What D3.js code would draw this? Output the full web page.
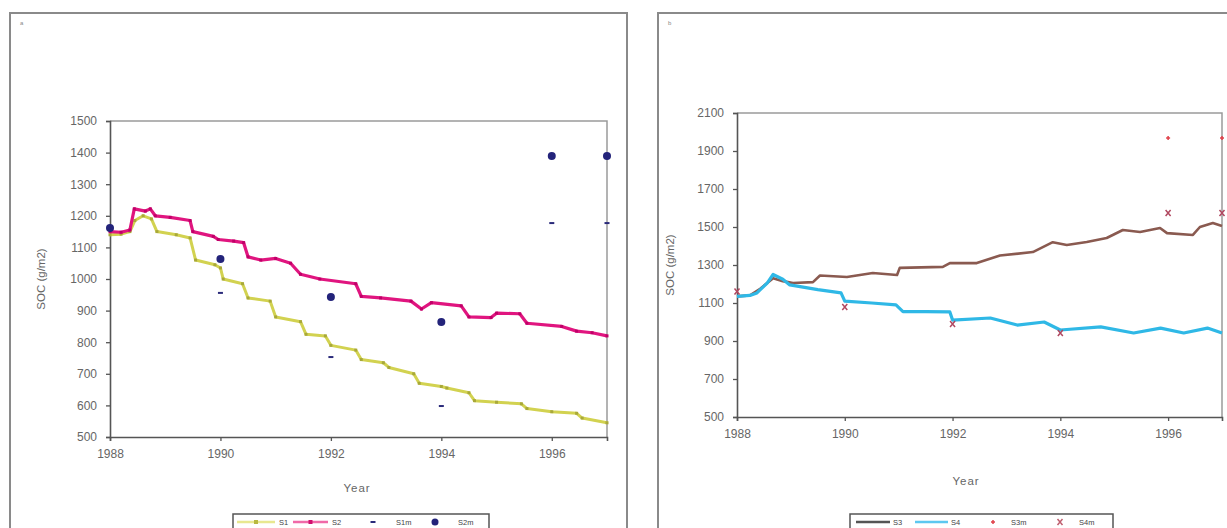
<!DOCTYPE html>
<html><head><meta charset="utf-8">
<script src="https://cdn.jsdelivr.net/npm/d3@7"></script>
<style>html,body{margin:0;padding:0;background:#fff;}svg{display:block;font-family:"Liberation Sans",Arial,sans-serif;}</style>
</head><body>
<svg id="c" width="1227" height="528"></svg>
<script>
// ---- Data ----
const xTicks = [1988, 1990, 1992, 1994, 1996];
const yTicksA = [500, 600, 700, 800, 900, 1000, 1100, 1200, 1300, 1400, 1500];
const yTicksB = [500, 700, 900, 1100, 1300, 1500, 1700, 1900, 2100];
const legendA = ["S1", "S2", "S1m", "S2m"];
const legendB = ["S3", "S4", "S3m", "S4m"];

// Panel a: simulated series (year, SOC)
const s1Years = [1988.0,1988.2,1988.36,1988.45,1988.6,1988.75,1988.85,1989.2,1989.45,1989.55,1989.9,1990.0,1990.05,1990.4,1990.5,1990.9,1991.0,1991.45,1991.55,1991.9,1992.0,1992.45,1992.55,1992.95,1993.05,1993.5,1993.6,1994.0,1994.1,1994.5,1994.6,1995.0,1995.45,1995.55,1996.0,1996.45,1996.55,1997.0];
const s1Vals  = [1140,1142,1150,1185,1200,1190,1150,1140,1130,1060,1045,1035,1000,985,940,930,880,865,825,820,790,775,745,735,720,700,670,660,655,640,615,610,605,590,580,575,560,545];
const s2Years = [1988.0,1988.2,1988.36,1988.44,1988.64,1988.73,1988.82,1989.09,1989.45,1989.5,1989.87,1989.96,1990.24,1990.42,1990.5,1990.73,1991.0,1991.27,1991.45,1991.8,1992.45,1992.55,1992.9,1993.45,1993.64,1993.82,1994.36,1994.5,1994.9,1995.0,1995.42,1995.55,1996.18,1996.45,1996.73,1997.0];
const s2Vals  = [1150,1148,1155,1222,1215,1222,1200,1195,1185,1150,1135,1125,1120,1115,1070,1060,1065,1050,1015,1000,985,945,940,930,905,925,915,880,878,892,890,860,850,835,830,820];
// Panel a: measured values
const obsYears = [1988, 1990, 1992, 1994, 1996, 1997];
const s1mVals = [1160, 956, 753, 598, 1177, 1177];
const s2mVals = [1161, 1063, 943, 864, 1389, 1389];

// Panel b: simulated series
const s3Years = [1988.0,1988.24,1988.43,1988.67,1988.85,1989.04,1989.41,1989.54,1990.04,1990.52,1990.97,1991.02,1991.82,1991.95,1992.45,1992.88,1993.49,1993.86,1994.12,1994.49,1994.86,1995.16,1995.48,1995.85,1995.98,1996.46,1996.59,1996.83,1997.0];
const s3Vals  = [1135,1140,1175,1230,1215,1205,1210,1245,1237,1258,1247,1285,1290,1310,1310,1350,1368,1420,1405,1421,1442,1484,1474,1495,1468,1458,1500,1521,1505];
const s4Years = [1988.0,1988.24,1988.37,1988.56,1988.67,1988.85,1988.98,1989.5,1989.93,1990.0,1990.5,1990.95,1991.08,1991.5,1991.95,1992.0,1992.7,1993.2,1993.7,1994.0,1994.75,1995.36,1995.86,1996.29,1996.73,1997.0];
const s4Vals  = [1135,1140,1153,1205,1250,1225,1195,1170,1153,1110,1100,1090,1055,1055,1053,1010,1021,984,1000,958,974,942,968,942,968,942];
// Panel b: measured values
const s3mYears = [1996, 1997];
const s3mVals = [1968, 1968];
const s4mVals = [1160, 1079, 990, 942, 1574, 1574];

// ---- Drawing ----
const svg = d3.select("#c");
svg.append("rect").attr("width",1227).attr("height",528).attr("fill","#fff");

function zip(a,b){return a.map((v,i)=>[v,b[i]]);}

function panel(cfg){
  const g = svg.append("g");
  g.append("rect").attr("x",cfg.frame[0]).attr("y",cfg.frame[1]).attr("width",cfg.frame[2]).attr("height",cfg.frame[3])
    .attr("fill","none").attr("stroke","#8a8a8a").attr("stroke-width",2);
  g.append("text").attr("x",cfg.frame[0]+10).attr("y",cfg.frame[1]+12).attr("font-size",6).attr("fill","#888").text(cfg.tag);

  const x = d3.scaleLinear().domain([1988,1997]).range([cfg.l,cfg.r]);
  const y = d3.scaleLinear().domain(cfg.ydom).range([cfg.b,cfg.t]);

  g.append("path").attr("d",`M${cfg.l},${cfg.t}H${cfg.r}V${cfg.b}`).attr("fill","none").attr("stroke","#9a9a9a").attr("stroke-width",1.5);

  const xa = g.append("g").attr("transform",`translate(0,${cfg.b})`)
    .call(d3.axisBottom(x).tickValues(xTicks).tickFormat(d3.format("d")).tickSize(4).tickPadding(8));
  const ya = g.append("g").attr("transform",`translate(${cfg.l},0)`)
    .call(d3.axisLeft(y).tickValues(cfg.yticks).tickFormat(d3.format("d")).tickSize(4).tickPadding(9));
  [xa,ya].forEach(a=>{
    a.select(".domain").attr("stroke","#555").attr("stroke-width",1.6);
    a.selectAll(".tick line").attr("stroke","#555").attr("stroke-width",1.3);
    a.selectAll(".tick text").attr("fill","#666").attr("font-size",12).attr("font-family","Liberation Sans, Arial, sans-serif");
  });

  g.append("text").attr("transform",`translate(${cfg.ylx},${(cfg.t+cfg.b)/2}) rotate(-90)`).attr("text-anchor","middle")
    .attr("font-size",11.5).attr("fill","#666").text("SOC (g/m2)");
  g.append("text").attr("x",cfg.xlx).attr("y",cfg.xly).attr("text-anchor","middle")
    .attr("font-size",11.5).attr("fill","#666").attr("letter-spacing",1).text("Year");

  const line = d3.line().x(d=>x(d[0])).y(d=>y(d[1]));
  cfg.lines.forEach(L=>{
    g.append("path").datum(zip(L.xs,L.ys)).attr("d",line).attr("fill","none")
      .attr("stroke",L.color).attr("stroke-width",L.w).attr("stroke-linejoin","round");
    if(L.mark){
      g.selectAll(null).data(zip(L.xs,L.ys)).join("rect")
        .attr("x",d=>x(d[0])-1.5).attr("y",d=>y(d[1])-1.5).attr("width",3).attr("height",3).attr("fill",L.mark);
    }
  });
  cfg.points.forEach(P=>{
    const pts = zip(P.xs,P.ys);
    if(P.type==="dash"){
      g.selectAll(null).data(pts).join("line")
        .attr("x1",d=>x(d[0])-2.5).attr("x2",d=>x(d[0])+2.5).attr("y1",d=>y(d[1])).attr("y2",d=>y(d[1]))
        .attr("stroke",P.color).attr("stroke-width",2);
    } else if(P.type==="circle"){
      g.selectAll(null).data(pts).join("circle")
        .attr("cx",d=>x(d[0])).attr("cy",d=>y(d[1])).attr("r",4).attr("fill",P.color);
    } else if(P.type==="plus"){
      g.selectAll(null).data(pts).join("path")
        .attr("d",d=>`M${x(d[0])-2},${y(d[1])}h4M${x(d[0])},${y(d[1])-2}v4`).attr("stroke",P.color).attr("stroke-width",1.5);
    } else if(P.type==="x"){
      g.selectAll(null).data(pts).join("path")
        .attr("d",d=>`M${x(d[0])-2.5},${y(d[1])-3}l5,6M${x(d[0])+2.5},${y(d[1])-3}l-5,6`).attr("stroke",P.color).attr("stroke-width",1.5);
    }
  });

  const lg = g.append("g");
  lg.append("rect").attr("x",cfg.leg[0]).attr("y",cfg.leg[1]).attr("width",cfg.leg[2]).attr("height",30)
    .attr("fill","#fff").attr("stroke","#555").attr("stroke-width",1.5);
  cfg.legItems.forEach(it=>{
    const ly = cfg.leg[1]+8;
    if(it.kind==="line"){
      lg.append("line").attr("x1",it.x).attr("x2",it.x+it.len).attr("y1",ly).attr("y2",ly).attr("stroke",it.color).attr("stroke-width",2.5);
      if(it.mark) lg.append("rect").attr("x",it.x+it.len/2-2).attr("y",ly-2).attr("width",4).attr("height",4).attr("fill",it.mark);
    } else if(it.kind==="dash"){
      lg.append("line").attr("x1",it.x-2.5).attr("x2",it.x+2.5).attr("y1",ly).attr("y2",ly).attr("stroke",it.color).attr("stroke-width",2);
    } else if(it.kind==="circle"){
      lg.append("circle").attr("cx",it.x).attr("cy",ly).attr("r",3.5).attr("fill",it.color);
    } else if(it.kind==="plus"){
      lg.append("path").attr("d",`M${it.x-2},${ly}h4M${it.x},${ly-2}v4`).attr("stroke",it.color).attr("stroke-width",1.5);
    } else if(it.kind==="x"){
      lg.append("path").attr("d",`M${it.x-2.5},${ly-3}l5,6M${it.x+2.5},${ly-3}l-5,6`).attr("stroke",it.color).attr("stroke-width",1.5);
    }
    lg.append("text").attr("x",it.tx).attr("y",ly+3).attr("font-size",7.5).attr("fill","#444").text(it.label);
  });
}

panel({
  tag:"a", frame:[10,13,617,540],
  l:110, r:607, t:121, b:437, ydom:[500,1500], yticks:yTicksA,
  ylx:45, xlx:357, xly:492,
  lines:[
    {xs:s1Years, ys:s1Vals, color:"#d2d250", w:3, mark:"#a8a83a"},
    {xs:s2Years, ys:s2Vals, color:"#e0157f", w:3.2, mark:"#c00068"}
  ],
  points:[
    {xs:obsYears, ys:s1mVals, type:"dash", color:"#2a2a7a"},
    {xs:obsYears, ys:s2mVals, type:"circle", color:"#23237a"}
  ],
  leg:[233,514,256],
  legItems:[
    {kind:"line", x:237, len:38, color:"#e8e890", mark:"#b8b840", tx:279, label:legendA[0]},
    {kind:"line", x:293, len:35, color:"#f06aa8", mark:"#d0106e", tx:332, label:legendA[1]},
    {kind:"dash", x:373, color:"#2a2a7a", tx:396, label:legendA[2]},
    {kind:"circle", x:435, color:"#23237a", tx:458, label:legendA[3]}
  ]
});

panel({
  tag:"b", frame:[658,13,600,540],
  l:737, r:1222, t:113, b:417, ydom:[500,2100], yticks:yTicksB,
  ylx:674, xlx:966, xly:485,
  lines:[
    {xs:s3Years, ys:s3Vals, color:"#8a5a50", w:2.6},
    {xs:s4Years, ys:s4Vals, color:"#2fb8e6", w:3.2}
  ],
  points:[
    {xs:s3mYears, ys:s3mVals, type:"plus", color:"#e0404a"},
    {xs:obsYears, ys:s4mVals, type:"x", color:"#b04860"}
  ],
  leg:[850,514,263],
  legItems:[
    {kind:"line", x:856, len:34, color:"#555", tx:893, label:legendB[0]},
    {kind:"line", x:915, len:33, color:"#5cc8f0", tx:951, label:legendB[1]},
    {kind:"plus", x:993, color:"#e0404a", tx:1011, label:legendB[2]},
    {kind:"x", x:1060, color:"#c06070", tx:1079, label:legendB[3]}
  ]
});
</script>
</body></html>
